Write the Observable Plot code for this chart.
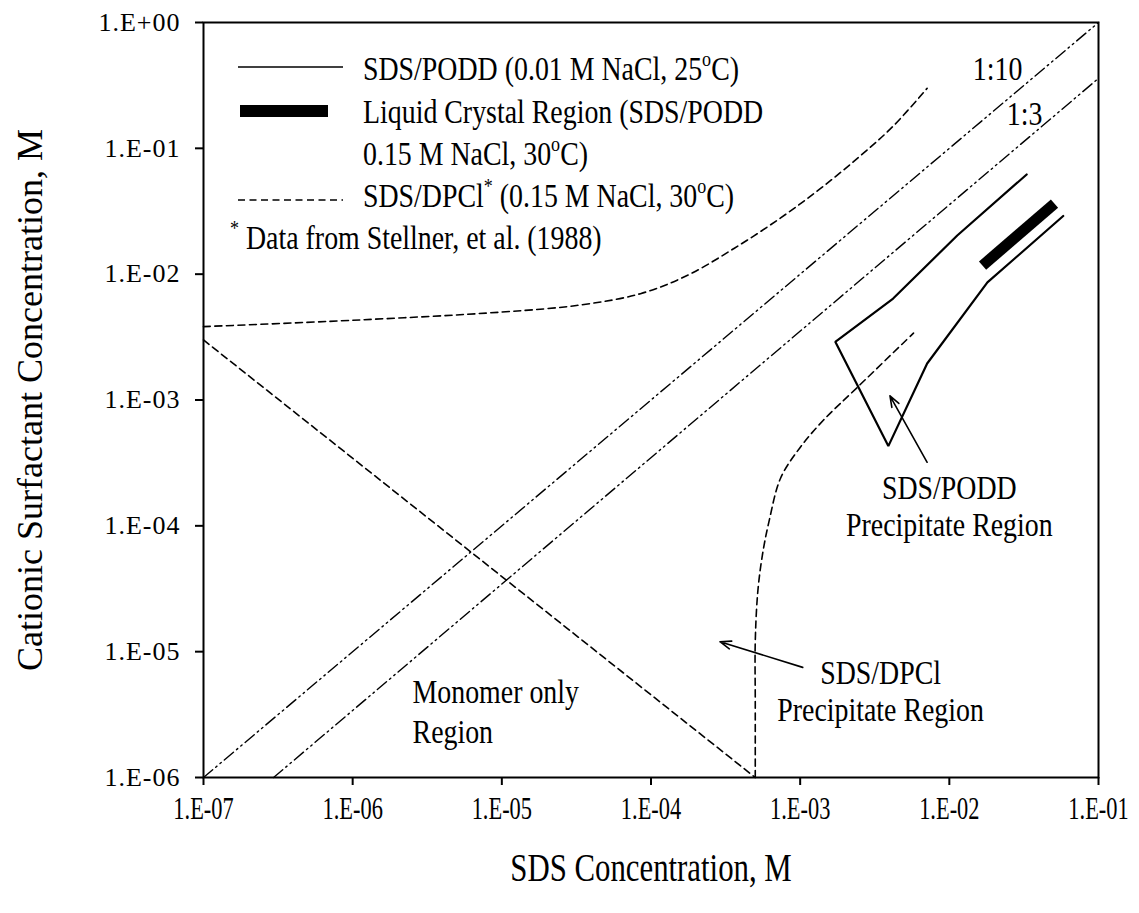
<!DOCTYPE html>
<html><head><meta charset="utf-8">
<style>
html,body{margin:0;padding:0;background:#fff;}
#chart{position:relative;width:1139px;height:913px;}
</style>
<script src="https://cdn.jsdelivr.net/npm/d3@7"></script>
<script src="https://cdn.jsdelivr.net/npm/@observablehq/plot@0.6"></script>
</head><body><div id="chart"></div>
<script>
// ---------- data ----------
const xTicks = [1e-7, 1e-6, 1e-5, 1e-4, 1e-3, 1e-2, 1e-1];
const yTicks = [1e-6, 1e-5, 1e-4, 1e-3, 1e-2, 1e-1, 1];
const xTitle = "SDS Concentration, M";
const yTitle = "Cationic Surfactant Concentration, M";

const ratio10 = [{x: 1e-7, y: 1e-6}, {x: 1e-1, y: 1.0}];
const ratio3 = [{x: 2.95e-7, y: 1e-6}, {x: 1e-1, y: 0.36}];

const dpclUpper = [
  {x: 1e-7, y: 3.83e-3}, {x: 1e-6, y: 4.3e-3}, {x: 1e-5, y: 5.0e-3},
  {x: 3.4e-5, y: 5.7e-3}, {x: 8.5e-5, y: 7.0e-3}, {x: 1.76e-4, y: 9.8e-3},
  {x: 3.6e-4, y: 1.6e-2}, {x: 7.4e-4, y: 2.8e-2}, {x: 1.37e-3, y: 4.8e-2},
  {x: 2.5e-3, y: 8.6e-2}, {x: 4.2e-3, y: 0.15}, {x: 7.1e-3, y: 0.30}
];
const dpclMonomer = [{x: 1e-7, y: 3.0e-3}, {x: 5e-4, y: 1e-6}];
const dpclPrecip = [
  {x: 5e-4, y: 1e-6}, {x: 5e-4, y: 4e-6}, {x: 5.0e-4, y: 1.2e-5},
  {x: 5.2e-4, y: 3.0e-5}, {x: 5.6e-4, y: 6.0e-5}, {x: 6.2e-4, y: 1.1e-4},
  {x: 7.4e-4, y: 2.4e-4}, {x: 1.0e-3, y: 4.2e-4}, {x: 1.43e-3, y: 6.9e-4},
  {x: 2.4e-3, y: 1.25e-3}, {x: 5.75e-3, y: 3.4e-3}
];
const poddBoundary = [
  {x: 3.3e-2, y: 6.2e-2}, {x: 1.13e-2, y: 2.03e-2}, {x: 4.2e-3, y: 6.4e-3},
  {x: 1.72e-3, y: 2.9e-3}, {x: 3.9e-3, y: 4.3e-4}, {x: 7.1e-3, y: 1.95e-3},
  {x: 1.8e-2, y: 8.6e-3}, {x: 5.8e-2, y: 2.9e-2}
];
const liquidCrystal = [{x: 1.67e-2, y: 1.17e-2}, {x: 5.07e-2, y: 3.64e-2}];

const arrows = [
  {x1: 7.1e-3, y1: 3.2e-4, x2: 4.0e-3, y2: 1.08e-3},
  {x1: 1.04e-3, y1: 7.5e-6, x2: 2.9e-4, y2: 1.2e-5}
];

const labelsEnd = [
  {text: "1:10", x: 3.09e-2, y: 0.423},
  {text: "1:3", x: 4.21e-2, y: 0.186}
];
const labelsMiddle = [
  {text: "SDS/PODD", x: 1.0e-2, y: 2.01e-4},
  {text: "Precipitate Region", x: 1.0e-2, y: 1.02e-4},
  {text: "SDS/DPCl", x: 3.46e-3, y: 6.81e-6},
  {text: "Precipitate Region", x: 3.46e-3, y: 3.46e-6}
];
const labelsStart = [
  {text: "Monomer only", x: 2.52e-6, y: 4.81e-6},
  {text: "Region", x: 2.52e-6, y: 2.31e-6}
];

// legend rows: sample type + text parts ([text, isSuperscript])
const legendRows = [
  {sample: "solid", parts: [["SDS/PODD (0.01 M NaCl, 25", 0], ["o", 1], ["C)", 0]]},
  {sample: "thick", parts: [["Liquid Crystal Region (SDS/PODD", 0]]},
  {sample: null, parts: [["0.15 M NaCl, 30", 0], ["o", 1], ["C)", 0]]},
  {sample: "dashed", parts: [["SDS/DPCl", 0], ["*", 1], [" (0.15 M NaCl, 30", 0], ["o", 1], ["C)", 0]]},
  {sample: null, note: true, parts: [["*", 1], [" Data from Stellner, et al. (1988)", 0]]}
];

// ---------- chart ----------
const fmtE = v => {
  const e = Math.round(Math.log10(v));
  return "1.E" + (e < 0 ? "-" : "+") + String(Math.abs(e)).padStart(2, "0");
};
const FONT = "'Liberation Serif', 'Times New Roman', serif";
const DASH = "7,4.5";
const DASHDOTDOT = "12,4,1.6,4,1.6,4";

const plot = Plot.plot({
  width: 1139, height: 913,
  marginLeft: 203, marginRight: 41, marginTop: 22, marginBottom: 136,
  x: {type: "log", domain: [1e-7, 1e-1]},
  y: {type: "log", domain: [1e-6, 1]},
  style: {fontFamily: FONT, background: "white", color: "black", overflow: "visible"},
  marks: [
    Plot.line(ratio10, {x: "x", y: "y", stroke: "black", strokeWidth: 1.4, strokeDasharray: DASHDOTDOT}),
    Plot.line(ratio3, {x: "x", y: "y", stroke: "black", strokeWidth: 1.4, strokeDasharray: DASHDOTDOT}),
    Plot.line(dpclUpper, {x: "x", y: "y", curve: "catmull-rom", stroke: "black", strokeWidth: 1.6, strokeDasharray: DASH}),
    Plot.line(dpclMonomer, {x: "x", y: "y", stroke: "black", strokeWidth: 1.6, strokeDasharray: DASH}),
    Plot.line(dpclPrecip, {x: "x", y: "y", curve: "catmull-rom", stroke: "black", strokeWidth: 1.6, strokeDasharray: DASH}),
    Plot.line(poddBoundary, {x: "x", y: "y", stroke: "black", strokeWidth: 2.2, strokeLinejoin: "miter"}),
    Plot.line(liquidCrystal, {x: "x", y: "y", stroke: "black", strokeWidth: 11, strokeLinecap: "butt"}),
    Plot.arrow(arrows, {x1: "x1", y1: "y1", x2: "x2", y2: "y2", stroke: "black", strokeWidth: 1.6, headLength: 11, headAngle: 40}),
    Plot.text(labelsEnd, {x: "x", y: "y", text: "text", textAnchor: "end", lineAnchor: "middle", fontSize: 34, className: "sq"}),
    Plot.text(labelsMiddle, {x: "x", y: "y", text: "text", textAnchor: "middle", lineAnchor: "middle", fontSize: 34, className: "sq"}),
    Plot.text(labelsStart, {x: "x", y: "y", text: "text", textAnchor: "start", lineAnchor: "middle", fontSize: 34, className: "sq"}),
    Plot.frame({stroke: "black", strokeWidth: 2}),
    Plot.axisX({ticks: xTicks, tickFormat: fmtE, tickSize: 8, tickPadding: 11, fontSize: 32, strokeWidth: 2, label: null}),
    Plot.axisY({ticks: yTicks, tickFormat: fmtE, tickSize: 8, tickPadding: 15, fontSize: 26, strokeWidth: 2, label: null}),
    Plot.text([xTitle], {text: d => d, frameAnchor: "bottom", dy: 91, textAnchor: "middle", lineAnchor: "middle", fontSize: 40, className: "sqt"}),
    Plot.text([yTitle], {text: d => d, frameAnchor: "left", dx: -173, rotate: -90, textAnchor: "middle", lineAnchor: "middle", fontSize: 36})
  ]
});

document.getElementById("chart").appendChild(plot);
const svg = d3.select(plot);

function squeeze(sel, sx, sy) {
  sel.each(function () {
    const t = this.getAttribute("transform") || "";
    this.setAttribute("transform", t + ` scale(${sx},${sy})`);
  });
}
squeeze(svg.selectAll("g.sq text"), 0.82, 1);
squeeze(svg.selectAll("g.sqt text"), 0.77, 1);
squeeze(svg.selectAll('g[aria-label="x-axis tick label"] text'), 0.7, 1);
svg.selectAll('g[aria-label="y-axis tick label"] text').style("letter-spacing", "1px");

// ---------- legend ----------
const lg = svg.append("g").attr("font-family", FONT).attr("fill", "black").attr("text-anchor", "start");
const rowBase = [80, 123, 165, 207, 249];
const sampleY = [67, 111, 0, 200, 0];
legendRows.forEach((row, i) => {
  if (row.sample === "solid") {
    lg.append("line").attr("x1", 238).attr("x2", 343).attr("y1", sampleY[i]).attr("y2", sampleY[i])
      .attr("stroke", "black").attr("stroke-width", 1.6);
  } else if (row.sample === "thick") {
    lg.append("line").attr("x1", 240).attr("x2", 328).attr("y1", sampleY[i]).attr("y2", sampleY[i])
      .attr("stroke", "black").attr("stroke-width", 12);
  } else if (row.sample === "dashed") {
    lg.append("line").attr("x1", 238).attr("x2", 343).attr("y1", sampleY[i]).attr("y2", sampleY[i])
      .attr("stroke", "black").attr("stroke-width", 1.6).attr("stroke-dasharray", DASH);
  }
  const x0 = row.note ? 230 : 363;
  const t = lg.append("text").attr("font-size", 34).attr("text-anchor", "start")
    .attr("transform", `translate(${x0},${rowBase[i]}) scale(0.82,1)`);
  let raised = false;
  row.parts.forEach(([s, sup]) => {
    const ts = t.append("tspan").text(s);
    if (sup && !raised) { ts.attr("font-size", 22).attr("dy", -14); raised = true; }
    else if (!sup && raised) { ts.attr("dy", 14); raised = false; }
  });
});
</script>
</body></html>
